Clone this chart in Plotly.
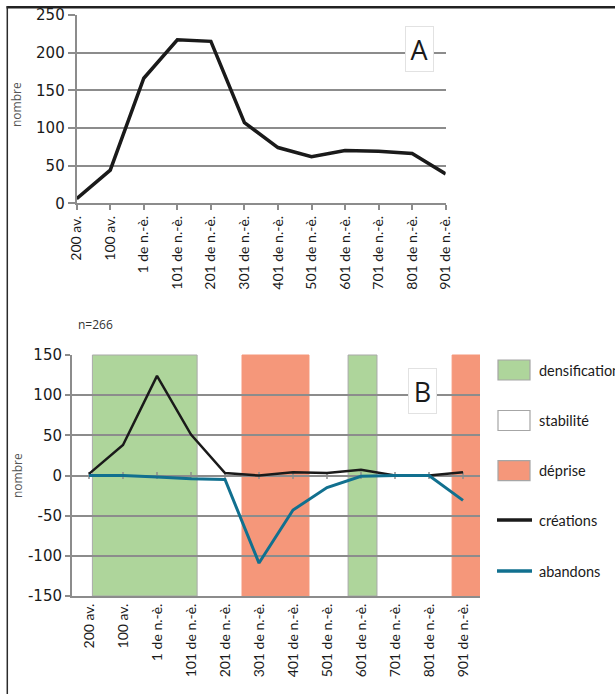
import plotly.graph_objects as go

W, H = 615, 694

# ---------------- data ----------------
periods = ["200 av.", "100 av.", "1 de n.-è.", "101 de n.-è.", "201 de n.-è.",
           "301 de n.-è.", "401 de n.-è.", "501 de n.-è.", "601 de n.-è.",
           "701 de n.-è.", "801 de n.-è.", "901 de n.-è."]
nombre_sites = [6, 44, 166, 217, 215, 107, 74, 62, 70, 69, 66, 39]

creations = [2, 38, 124, 51, 3, 0, 4, 3, 7, 0, 0, 4]
abandons = [0, 0, -2, -4, -5, -109, -43, -15, -1, 0, 0, -31]

# phases (start / end positions along the period axis, in category units)
phase_names = ["densification", "déprise", "densification", "déprise"]
phase_start = [0.1, 4.5, 7.62, 10.68]
phase_end = [3.18, 6.47, 8.47, 11.5]

legend_labels = ["densification", "stabilité", "déprise", "créations", "abandons"]

yA_ticks = [0, 50, 100, 150, 200, 250]
yA_text = ["0", "50", "100", "150", "200", "250"]
yB_ticks = [-150, -100, -50, 0, 50, 100, 150]
yB_text = ["-150", "-100", "-50", "0", "50", "100", "150"]
n_label = "n=266"

# ---------------- styles ----------------
GRID = "#8c8c8c"
GREEN = "#aed59b"
RED = "#f5977a"
BLUE = "#11708f"
BLACK = "#1a1a1a"
TICKFONT_Y = dict(family="DejaVu Sans", size=15, color="#1a1a1a")
TICKFONT_X = dict(family="Lato", size=14, color="#1a1a1a")
LEGFONT = dict(family="Lato", size=14.5, color="#1a1a1a")


def px(x):
    return x / W


def py(y):
    return 1 - y / H


fig = go.Figure()

# ---------------- chart A ----------------
fig.add_trace(go.Scatter(x=periods, y=nombre_sites, mode="lines",
                         line=dict(color=BLACK, width=3.5),
                         xaxis="x", yaxis="y", showlegend=False))

# ---------------- chart B ----------------
color_of = {"densification": GREEN, "déprise": RED}
shapes = []
for name, s, e in zip(phase_names, phase_start, phase_end):
    shapes.append(dict(type="rect", xref="x2", yref="y2 domain", x0=s, x1=e, y0=0, y1=1,
                       fillcolor=color_of[name],
                       line=dict(color="#a9a9a9" if name == "densification" else color_of[name],
                                 width=1),
                       layer="below"))

fig.add_trace(go.Scatter(x=periods, y=[0] * len(periods), mode="markers",
                         marker=dict(symbol="line-ns", size=5,
                                     line=dict(color=GRID, width=1.5)),
                         xaxis="x2", yaxis="y2", showlegend=False, hoverinfo="skip"))
fig.add_trace(go.Scatter(x=periods, y=creations, mode="lines", name="créations",
                         line=dict(color=BLACK, width=2.5),
                         xaxis="x2", yaxis="y2", showlegend=False))
fig.add_trace(go.Scatter(x=periods, y=abandons, mode="lines", name="abandons",
                         line=dict(color=BLUE, width=3),
                         xaxis="x2", yaxis="y2", showlegend=False))

# ---------------- legend (custom) ----------------
leg_y = [370, 420.5, 470.7, 520, 571]
leg_fill = [GREEN, "white", RED]
annotations = []
for i, lab in enumerate(legend_labels):
    yc = leg_y[i]
    if i < 3:
        shapes.append(dict(type="rect", xref="paper", yref="paper",
                           x0=px(498), x1=px(530), y0=py(yc - 10), y1=py(yc + 10),
                           fillcolor=leg_fill[i], line=dict(color="#a6a6a6", width=1.2)))
    else:
        shapes.append(dict(type="line", xref="paper", yref="paper",
                           x0=px(497), x1=px(532), y0=py(yc), y1=py(yc),
                           line=dict(color=BLACK if i == 3 else BLUE, width=3.5)))
    annotations.append(dict(text=lab, xref="paper", yref="paper", x=px(536.5), y=py(yc),
                            xanchor="left", yanchor="middle", showarrow=False, font=LEGFONT))

# frame lines (top and left)
shapes.append(dict(type="line", xref="paper", yref="paper", x0=px(6.5), x1=1,
                   y0=py(7.3), y1=py(7.3), line=dict(color="#222222", width=2.5)))
shapes.append(dict(type="line", xref="paper", yref="paper", x0=px(7.3), x1=px(7.3),
                   y0=0, y1=py(6.3), line=dict(color="#2b2b2b", width=1.5)))

# panel letters
for letter, cx, cy in [("A", 419, 49.5), ("B", 423, 391)]:
    annotations.append(dict(text=letter, xref="paper", yref="paper", x=px(cx), y=py(cy),
                            xanchor="center", yanchor="middle", showarrow=False,
                            font=dict(family="Open Sans", size=27, color="#1a1a1a"),
                            bgcolor="white", bordercolor="#e2e2e2", borderwidth=1,
                            borderpad=0, width=27, height=44))

# axis titles
for cy in [105, 476]:
    annotations.append(dict(text="nombre", xref="paper", yref="paper", x=px(17), y=py(cy),
                            textangle=-90, xanchor="center", yanchor="middle", showarrow=False,
                            font=dict(family="Open Sans", size=12, color="#555555")))
annotations.append(dict(text=n_label, xref="paper", yref="paper", x=px(76), y=py(324),
                        xanchor="left", yanchor="middle", showarrow=False,
                        font=dict(family="Open Sans", size=12, color="#333333")))

axis_common = dict(showline=True, linecolor=GRID, linewidth=2, ticks="outside",
                   tickcolor=GRID, tickwidth=2, fixedrange=True)

fig.update_layout(
    width=W, height=H, margin=dict(l=0, r=0, t=0, b=0, autoexpand=False),
    paper_bgcolor="white", plot_bgcolor="white", showlegend=False,
    xaxis=dict(domain=[px(76.7), px(445.7)], anchor="y", type="category",
               categoryorder="array", categoryarray=periods, range=[0, 11],
               tickangle=-90, tickfont=TICKFONT_X, ticklen=5, showgrid=False,
               **axis_common),
    yaxis=dict(domain=[py(203.3), py(15)], anchor="x", range=[0, 250],
               tickvals=yA_ticks, ticktext=yA_text, tickfont=TICKFONT_Y, ticklen=7,
               showgrid=True, gridcolor=GRID, gridwidth=2, zeroline=False,
               **axis_common),
    xaxis2=dict(domain=[px(72), px(480)], anchor="y2", type="category",
                categoryorder="array", categoryarray=periods, range=[-0.5, 11.5],
                tickangle=-90, tickfont=TICKFONT_X, showgrid=False,
                showline=True, linecolor=GRID, linewidth=2, ticks="", fixedrange=True),
    yaxis2=dict(domain=[py(596), py(355)], anchor="x2", range=[-150, 150],
                tickvals=yB_ticks, ticktext=yB_text, tickfont=TICKFONT_Y, ticklen=5,
                showgrid=True, gridcolor=GRID, gridwidth=2, zeroline=False,
                **axis_common),
    shapes=shapes,
    annotations=annotations,
)

fig.write_html("out.html", config={"displayModeBar": False},
               post_script="document.body.style.margin='0';document.body.style.overflow='hidden';")
